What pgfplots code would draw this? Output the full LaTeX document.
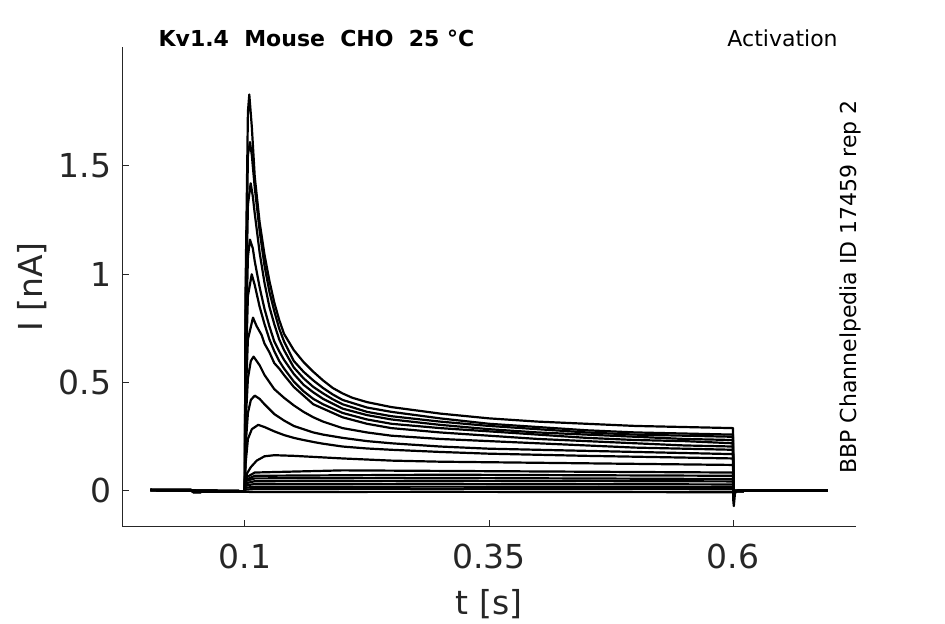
\documentclass[border=0pt]{standalone}
\usepackage{pgfplots}
\pgfplotsset{compat=1.18}
\usepackage{fontspec}
\setmainfont{DejaVu Sans}
\definecolor{axgray}{HTML}{262626}
\begin{document}
\begin{tikzpicture}
\begin{axis}[
  scale only axis, width=366.85pt, height=239.85pt,
  xmin=-0.0257, xmax=0.726, ymin=-0.165, ymax=2.049,
  axis x line*=bottom, axis y line*=left,
  axis line style={axgray, line width=0.5pt},
  xtick={0.1,0.35,0.6}, ytick={0,0.5,1,1.5},
  tick align=inside, major tick length=3.5pt,
  tick style={axgray, line width=0.5pt},
  /pgf/number format/assume math mode=true,
  ticklabel style={font=\fontsize{16.5}{20}\selectfont, text=axgray},
  xticklabel style={yshift=-5pt},
  yticklabel style={xshift=-2pt},
  xlabel={t [s]}, ylabel={I [nA]},
  label style={font=\fontsize{16.5}{20}\selectfont, text=axgray},
  x label style={at={(axis description cs:0.5,-0.161)}, anchor=center},
  y label style={at={(axis description cs:-0.1226,0.5)}, anchor=center, rotate=0},
  clip=false,
  tr/.style={black, solid, mark=none, line width=1.1pt, line join=round},
]
% T1
\addplot[tr] coordinates {(0.003,0.004)(0.045,0.004)(0.047,-0.005)(0.0998,-0.001)(0.1005,0.9)(0.103,1.75)(0.1044,1.83)(0.107,1.68)(0.11,1.45)(0.115,1.24)(0.12,1.09)(0.125,0.97)(0.13,0.87)(0.135,0.79)(0.14,0.725)(0.15,0.65)(0.16,0.595)(0.17,0.55)(0.18,0.51)(0.19,0.475)(0.2,0.45)(0.21,0.43)(0.225,0.41)(0.25,0.387)(0.3,0.357)(0.35,0.335)(0.4,0.32)(0.45,0.31)(0.5,0.30)(0.55,0.295)(0.6,0.29)(0.6002,-0.04)(0.6008,-0.07)(0.602,-0.01)(0.605,0.003)(0.697,0.003)};
% T2
\addplot[tr] coordinates {(0.003,0.004)(0.045,0.004)(0.047,-0.005)(0.0998,-0.001)(0.1005,0.8)(0.103,1.55)(0.1051,1.61)(0.107,1.55)(0.11,1.40)(0.115,1.20)(0.12,1.04)(0.125,0.92)(0.13,0.83)(0.135,0.75)(0.14,0.69)(0.15,0.60)(0.16,0.55)(0.17,0.51)(0.18,0.475)(0.19,0.445)(0.2,0.42)(0.225,0.385)(0.25,0.365)(0.3,0.335)(0.35,0.31)(0.4,0.295)(0.45,0.28)(0.5,0.27)(0.55,0.265)(0.6,0.26)(0.6004,0.0)(0.697,0.002)};
% T3
\addplot[tr] coordinates {(0.003,0.004)(0.045,0.004)(0.047,-0.005)(0.0998,-0.001)(0.1005,0.7)(0.103,1.32)(0.1058,1.42)(0.108,1.36)(0.11,1.28)(0.115,1.10)(0.12,0.96)(0.125,0.85)(0.13,0.77)(0.135,0.70)(0.14,0.65)(0.15,0.57)(0.16,0.52)(0.17,0.48)(0.18,0.45)(0.19,0.423)(0.2,0.40)(0.225,0.365)(0.25,0.345)(0.3,0.32)(0.35,0.30)(0.4,0.285)(0.45,0.27)(0.5,0.26)(0.55,0.255)(0.6,0.25)(0.6004,0.0)(0.697,0.002)};
% T4
\addplot[tr] coordinates {(0.003,0.004)(0.045,0.004)(0.047,-0.005)(0.0998,-0.001)(0.1005,0.6)(0.103,1.08)(0.1051,1.16)(0.108,1.12)(0.11,1.06)(0.115,0.94)(0.12,0.84)(0.125,0.76)(0.13,0.69)(0.135,0.645)(0.14,0.605)(0.15,0.54)(0.16,0.49)(0.17,0.455)(0.18,0.425)(0.2,0.38)(0.225,0.35)(0.25,0.33)(0.3,0.305)(0.35,0.285)(0.4,0.27)(0.45,0.26)(0.5,0.25)(0.55,0.24)(0.6,0.235)(0.6004,0.0)(0.697,0.002)};
% T5
\addplot[tr] coordinates {(0.003,0.004)(0.045,0.004)(0.047,-0.005)(0.0998,-0.001)(0.1005,0.5)(0.103,0.9)(0.1069,1.0)(0.11,0.95)(0.115,0.85)(0.12,0.77)(0.125,0.70)(0.13,0.645)(0.135,0.60)(0.14,0.565)(0.15,0.505)(0.16,0.46)(0.17,0.425)(0.18,0.40)(0.2,0.36)(0.225,0.33)(0.25,0.31)(0.3,0.29)(0.35,0.275)(0.4,0.26)(0.45,0.245)(0.5,0.235)(0.55,0.23)(0.6,0.22)(0.6004,0.0)(0.697,0.002)};
% T6
\addplot[tr] coordinates {(0.003,0.004)(0.045,0.004)(0.047,-0.005)(0.0998,-0.001)(0.1005,0.4)(0.103,0.7)(0.1082,0.80)(0.112,0.76)(0.117,0.72)(0.12,0.68)(0.125,0.64)(0.13,0.59)(0.135,0.565)(0.14,0.535)(0.15,0.48)(0.16,0.44)(0.17,0.40)(0.18,0.38)(0.2,0.34)(0.225,0.31)(0.25,0.29)(0.3,0.27)(0.35,0.255)(0.4,0.24)(0.45,0.23)(0.5,0.22)(0.55,0.21)(0.6,0.205)(0.6004,0.0)(0.697,0.002)};
% T7
\addplot[tr] coordinates {(0.003,0.004)(0.045,0.004)(0.047,-0.005)(0.0998,-0.001)(0.1005,0.3)(0.103,0.52)(0.106,0.60)(0.1088,0.62)(0.115,0.58)(0.12,0.535)(0.13,0.47)(0.14,0.43)(0.15,0.395)(0.16,0.365)(0.17,0.34)(0.18,0.32)(0.2,0.29)(0.225,0.27)(0.25,0.255)(0.3,0.24)(0.35,0.23)(0.4,0.22)(0.45,0.21)(0.5,0.20)(0.55,0.195)(0.6,0.19)(0.6004,0.0)(0.697,0.002)};
% T8
\addplot[tr] coordinates {(0.003,0.004)(0.045,0.004)(0.047,-0.005)(0.0998,-0.001)(0.1005,0.2)(0.103,0.36)(0.106,0.42)(0.11,0.44)(0.115,0.425)(0.12,0.40)(0.13,0.355)(0.14,0.325)(0.15,0.30)(0.16,0.285)(0.17,0.27)(0.18,0.26)(0.2,0.245)(0.225,0.23)(0.25,0.22)(0.3,0.205)(0.35,0.195)(0.4,0.19)(0.45,0.185)(0.5,0.18)(0.55,0.175)(0.6,0.17)(0.6004,0.0)(0.697,0.002)};
% T9
\addplot[tr] coordinates {(0.003,0.004)(0.045,0.004)(0.047,-0.005)(0.0998,-0.001)(0.1005,0.12)(0.103,0.24)(0.107,0.285)(0.1135,0.305)(0.12,0.295)(0.13,0.275)(0.14,0.258)(0.15,0.245)(0.16,0.235)(0.17,0.226)(0.18,0.218)(0.2,0.205)(0.225,0.196)(0.25,0.19)(0.3,0.18)(0.35,0.172)(0.4,0.167)(0.45,0.162)(0.5,0.158)(0.55,0.154)(0.6,0.15)(0.6004,0.0)(0.697,0.002)};
% T10
\addplot[tr] coordinates {(0.003,0.004)(0.045,0.004)(0.047,-0.005)(0.0998,-0.001)(0.1005,0.03)(0.102,0.08)(0.106,0.11)(0.112,0.14)(0.12,0.16)(0.13,0.165)(0.15,0.162)(0.2,0.15)(0.25,0.14)(0.3,0.135)(0.4,0.13)(0.5,0.125)(0.6,0.12)(0.6004,0.0)(0.697,0.002)};
% flat traces
\addplot[tr] coordinates {(0.003,0.004)(0.0998,-0.001)(0.1005,0.06)(0.11,0.085)(0.2,0.095)(0.4,0.09)(0.6,0.085)(0.6004,0.0)(0.697,0.002)};
\addplot[tr] coordinates {(0.003,0.004)(0.0998,-0.001)(0.1005,0.05)(0.11,0.07)(0.3,0.075)(0.6,0.07)(0.6004,0.0)(0.697,0.002)};
\addplot[tr] coordinates {(0.003,0.004)(0.0998,-0.001)(0.1005,0.045)(0.11,0.058)(0.3,0.06)(0.6,0.055)(0.6004,0.0)(0.697,0.002)};
\addplot[tr] coordinates {(0.003,0.004)(0.0998,-0.001)(0.1005,0.035)(0.11,0.045)(0.3,0.047)(0.6,0.044)(0.6004,0.0)(0.697,0.002)};
\addplot[tr] coordinates {(0.003,0.004)(0.0998,-0.001)(0.1005,0.025)(0.11,0.032)(0.3,0.033)(0.6,0.03)(0.6004,0.0)(0.697,0.002)};
\addplot[tr] coordinates {(0.003,0.004)(0.0998,-0.001)(0.1005,0.015)(0.11,0.019)(0.3,0.02)(0.6,0.018)(0.6004,0.0)(0.697,0.002)};
\addplot[tr] coordinates {(0.003,0.004)(0.0998,-0.001)(0.1005,0.006)(0.11,0.009)(0.3,0.01)(0.6,0.008)(0.6004,0.0)(0.697,0.002)};
\addplot[tr] coordinates {(0.003,0.004)(0.0998,-0.001)(0.1005,-0.004)(0.11,-0.005)(0.3,-0.004)(0.6,-0.006)(0.6004,0.0)(0.697,0.002)};
\node[anchor=base west, font=\fontsize{11}{13}\selectfont\bfseries, inner sep=0pt] at (rel axis cs:0.049,1.002) {Kv1.4\ \ Mouse\ \ CHO\ \ 25 °C};
\node[anchor=base east, font=\fontsize{11}{13}\selectfont, inner sep=0pt] at (rel axis cs:0.9755,1.002) {Activation};
\node[rotate=90, anchor=center, font=\fontsize{11}{13}\selectfont, inner sep=0pt] at (rel axis cs:0.9918,0.5) {BBP Channelpedia ID 17459 rep 2};
\end{axis}
\pgfresetboundingbox
\useasboundingbox (-61.15pt,-48.65pt) rectangle (411.35pt,263.35pt);
\end{tikzpicture}
\end{document}
